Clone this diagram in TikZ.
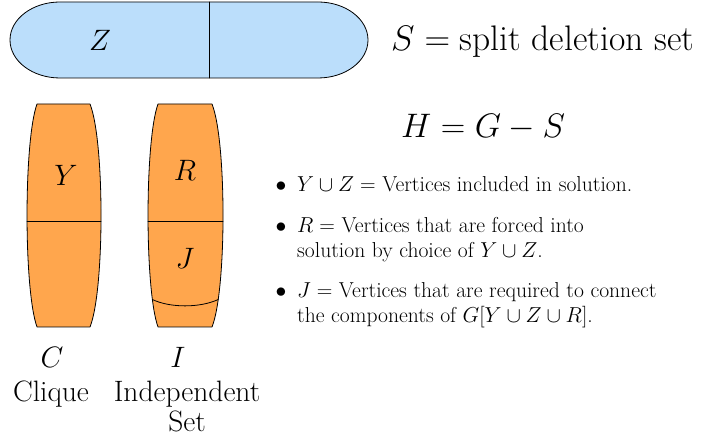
\RequirePackage{fix-cm}
\documentclass[tikz,border=0pt]{standalone}
\usepackage{fontspec}
\definecolor{ink}{RGB}{0,0,0}
\definecolor{pillblue}{RGB}{187,222,251}
\definecolor{setorange}{RGB}{255,166,77}

\begin{document}
\begin{tikzpicture}[x=1pt,y=1pt,line cap=round,line join=round,
  part/.style={draw=ink,line width=.8pt},
  setname/.style={font=\fontsize{29.5}{30}\selectfont,text=ink,inner sep=0pt},
  heading/.style={font=\fontsize{34}{40}\selectfont,text=ink,inner sep=0pt,anchor=base west},
  itemtext/.style={font=\fontsize{21.6}{24.5}\selectfont,text=ink,inner sep=0pt,anchor=base west,align=left},
  itemdot/.style={font=\fontsize{21.6}{24.5}\selectfont,text=ink,inner sep=0pt,anchor=base}]
\useasboundingbox (0,0) rectangle (705,441);
\path[part,fill=pillblue] (60,439) -- (318,439) arc[start angle=90,end angle=-90,x radius=50,y radius=38] -- (60,363) arc[start angle=270,end angle=90,x radius=50,y radius=38] -- cycle;
\draw[part] (209,439) -- (209,363);
\node[setname] (zlabel) at (100,401) {$Z$};
\path[part,fill=setorange] (37,337) -- (90,337) .. controls (104.7,300) and (104.7,151) .. (90,114) -- (37,114) .. controls (23.7,151) and (23.7,300) .. (37,337) -- cycle;
\draw[part] (27.1,220) -- (100.9,220);
\node[setname] (ylabel) at (66,266) {$Y$};
\path[part,fill=setorange] (158,337) -- (212,337) .. controls (226.7,300) and (226.7,151) .. (212,114) -- (158,114) .. controls (144.7,151) and (144.7,300) .. (158,337) -- cycle;
\draw[part] (148.1,220) -- (222.9,220);
\draw[part] (152.4,141.5) .. controls (170,133) and (200,133) .. (218.2,141.5);
\node[setname] (rlabel) at (185,271) {$R$};
\node[setname] (jlabel) at (185,183) {$J$};
\node[setname] (clabel) at (52,84) {$C$};
\node[setname,anchor=base] (cliquename) at (51,39) {Clique};
\node[setname] (ilabel) at (178,84) {$I$};
\node[setname,anchor=base,align=center] (indepname) at (187,9) {Independent\\Set};
\node[heading,font=\fontsize{35.5}{40}\selectfont] (sdef) at (391,390) {$S=\mbox{split deletion set}$};
\node[heading] (hdef) at (401,303) {$H=G-S$};
\node[itemdot] (dot1) at (281,249) {$\bullet$};
\node[itemtext] (item1) at (297,249) {$Y\cup Z=$ Vertices included in solution.};
\node[itemdot] (dot2) at (281,208) {$\bullet$};
\node[itemtext] (item2) at (297,183.5) {$R=$ Vertices that are forced into\\solution by choice of $Y\cup Z$.};
\node[itemdot] (dot3) at (281,143) {$\bullet$};
\node[itemtext] (item3) at (297,118.5) {$J=$ Vertices that are required to connect\\the components of $G[Y\cup Z\cup R]$.};
\end{tikzpicture}
\end{document}
